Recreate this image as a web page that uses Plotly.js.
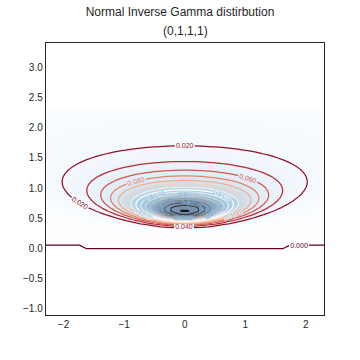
<!DOCTYPE html>
<html>
<head>
<meta charset="utf-8">
<script src="https://cdn.plot.ly/plotly-3.0.1.min.js"></script>
<style>html,body{margin:0;padding:0;background:#fff;}#chart{width:360px;height:360px;}</style>
</head>
<body>
<div id="chart"></div>
<script>
// Normal-Inverse-Gamma parameters read from the subtitle "(0,1,1,1)": mu, lambda, alpha, beta
const paramNames = ['mu', 'lambda', 'alpha', 'beta'];
const paramValues = [0, 1, 1, 1];
// Data domain of the evaluated grid (x = mean, y = sigma)
const xDomain = [-2.3, 2.3];
const yDomain = [0, 2.3];
const gridPoints = [42, 42];
// Contour levels shown by the labelled lines
const contourLevels = [0.00, 0.02, 0.04, 0.06, 0.08, 0.10, 0.12, 0.14, 0.16, 0.18, 0.20, 0.22, 0.24, 0.26, 0.28, 0.30, 0.32];
// Tick labels
const xTickVals = [-2, -1, 0, 1, 2];
const yTickVals = [-1.0, -0.5, 0.0, 0.5, 1.0, 1.5, 2.0, 2.5, 3.0];

const [mu, lam, alpha, beta] = paramValues;

function gammaFn(z) {
  const g = 7;
  const c = [0.99999999999980993, 676.5203681218851, -1259.1392167224028, 771.32342877765313,
    -176.61502916214059, 12.507343278686905, -0.13857109526572012, 9.9843695780195716e-6, 1.5056327351493116e-7];
  if (z < 0.5) return Math.PI / (Math.sin(Math.PI * z) * gammaFn(1 - z));
  z -= 1;
  let a = c[0];
  const t = z + g + 0.5;
  for (let i = 1; i < g + 2; i++) a += c[i] / (z + i);
  return Math.sqrt(2 * Math.PI) * Math.pow(t, z + 0.5) * Math.exp(-t) * a;
}

// density is zero outside the support sigma > 0
function nigDensity(x, s) {
  if (!(s > 0)) return 0;
  const s2 = s * s;
  const v = Math.sqrt(lam) / Math.sqrt(2 * Math.PI * s2) *
    Math.pow(beta, alpha) / gammaFn(alpha) *
    Math.pow(1 / s2, alpha + 1) *
    Math.exp(-(2 * beta + lam * (x - mu) * (x - mu)) / (2 * s2));
  return isFinite(v) ? v : 0;
}

function linspace(a, b, n) {
  const out = [];
  for (let i = 0; i < n; i++) out.push(a + (b - a) * i / (n - 1));
  return out;
}

// contour grid (one extra row below sigma = 0 so the zero-level line is not on the data edge)
const gx = linspace(xDomain[0], xDomain[1], gridPoints[0]);
const gyCore = linspace(yDomain[0], yDomain[1], gridPoints[1]);
const gy = [gyCore[0] - (gyCore[1] - gyCore[0])].concat(gyCore);
const gz = gy.map(s => gx.map(x => nigDensity(x, s)));

// fine background image grid (cell edges)
const nbx = 230, nby = 115;
const bxEdges = linspace(xDomain[0], xDomain[1], nbx + 1);
const byEdges = linspace(yDomain[0], yDomain[1], nby + 1);
const bz = [];
for (let j = 0; j < nby; j++) {
  const s = (byEdges[j] + byEdges[j + 1]) / 2;
  const row = [];
  for (let i = 0; i < nbx; i++) row.push(nigDensity((bxEdges[i] + bxEdges[i + 1]) / 2, s));
  bz.push(row);
}
let bmax = 0;
bz.forEach(r => r.forEach(v => { if (v > bmax) bmax = v; }));

const blues = [
  [0, '#f7fbff'], [0.125, '#deebf7'], [0.25, '#c6dbef'], [0.375, '#9ecae1'],
  [0.5, '#6baed6'], [0.625, '#4292c6'], [0.75, '#2171b5'], [0.875, '#08519c'], [1, '#08306b']
];
const rdgy = [
  [0, '#67001f'], [0.1, '#b2182b'], [0.2, '#d6604d'], [0.3, '#f4a582'], [0.4, '#fddbc7'],
  [0.5, '#ffffff'], [0.6, '#e0e0e0'], [0.7, '#bababa'], [0.8, '#878787'], [0.9, '#4d4d4d'], [1, '#1a1a1a']
];

const lvStart = contourLevels[0];
const lvEnd = contourLevels[contourLevels.length - 1];
const lvSize = contourLevels[1] - contourLevels[0];

const font = 'Liberation Sans, Arial, sans-serif';
const ink = '#262626';

const traces = [
  {
    type: 'heatmap', x: bxEdges, y: byEdges, z: bz,
    colorscale: blues, zmin: 0, zmax: bmax, showscale: false,
    opacity: 0.55, hoverinfo: 'skip'
  },
  {
    type: 'contour', x: gx, y: gy, z: gz,
    colorscale: rdgy, zmin: lvStart, zmax: lvEnd, autocontour: false, showscale: false,
    contours: {
      coloring: 'lines', start: lvStart, end: lvEnd, size: lvSize,
      showlabels: true, labelformat: '.3f',
      labelfont: { family: font, size: 7 }
    },
    line: { width: 1.25, smoothing: 0 },
    hoverinfo: 'skip'
  }
];

const layout = {
  width: 360, height: 360,
  margin: { l: 46, r: 36, t: 43, b: 45, pad: 0 },
  paper_bgcolor: '#ffffff', plot_bgcolor: '#ffffff',
  font: { family: font, size: 10, color: ink },
  title: {
    text: 'Normal Inverse Gamma distirbution',
    x: 0.5, xref: 'container', y: 1 - 12 / 360, yref: 'container',
    xanchor: 'center', yanchor: 'middle',
    font: { family: font, size: 12, color: ink }
  },
  annotations: [{
    text: '(0,1,1,1)', xref: 'paper', yref: 'paper', x: 0.5, y: 1, yshift: 12,
    xanchor: 'center', yanchor: 'middle', showarrow: false,
    font: { family: font, size: 12, color: ink }
  }],
  xaxis: {
    range: [-2.29, 2.30], tickvals: xTickVals, ticktext: xTickVals.map(v => String(v).replace('-', '\u2212')),
    showgrid: false, zeroline: false, showline: true, mirror: true,
    linecolor: ink, linewidth: 1.25, ticks: '',
    tickfont: { family: font, size: 10, color: ink }
  },
  yaxis: {
    range: [-1.10, 3.40], tickvals: yTickVals, ticktext: yTickVals.map(v => v.toFixed(1).replace('-', '\u2212')),
    showgrid: false, zeroline: false, showline: true, mirror: true,
    linecolor: ink, linewidth: 1.25, ticks: '',
    tickfont: { family: font, size: 10, color: ink }
  },
  showlegend: false
};

Plotly.newPlot('chart', traces, layout, { staticPlot: true, displayModeBar: false });
</script>
</body>
</html>
